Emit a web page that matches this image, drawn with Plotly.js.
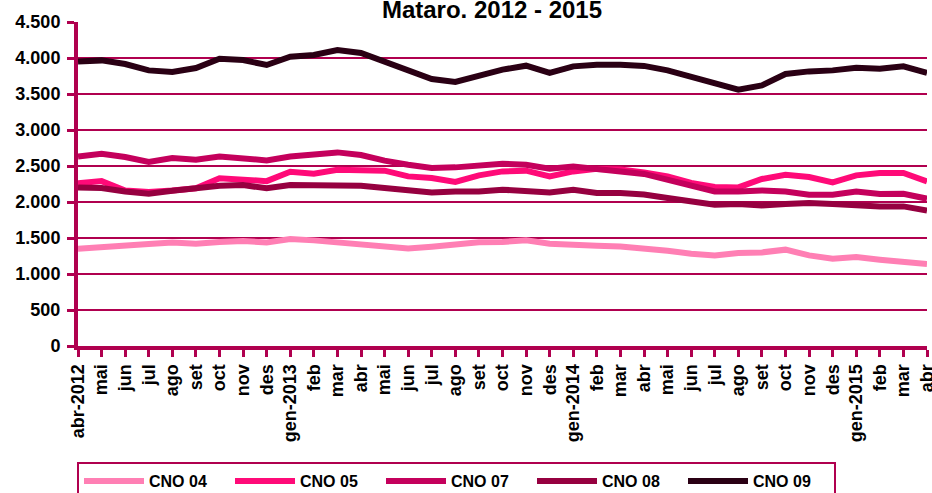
<!DOCTYPE html>
<html><head><meta charset="utf-8">
<script src="https://cdn.plot.ly/plotly-3.0.1.min.js"></script>
<style>html,body{margin:0;padding:0;background:#fff}#chart{width:932px;height:493px}</style>
</head><body><div id="chart"></div>
<script>
const months = ['2012-04','2012-05','2012-06','2012-07','2012-08','2012-09','2012-10','2012-11','2012-12',
  '2013-01','2013-02','2013-03','2013-04','2013-05','2013-06','2013-07','2013-08','2013-09','2013-10','2013-11','2013-12',
  '2014-01','2014-02','2014-03','2014-04','2014-05','2014-06','2014-07','2014-08','2014-09','2014-10','2014-11','2014-12',
  '2015-01','2015-02','2015-03','2015-04'];
const tickLabels = ['abr-2012','mai','jun','jul','ago','set','oct','nov','des',
  'gen-2013','feb','mar','abr','mai','jun','jul','ago','set','oct','nov','des',
  'gen-2014','feb','mar','abr','mai','jun','jul','ago','set','oct','nov','des',
  'gen-2015','feb','mar','abr'];
const seriesNames = ['CNO 04','CNO 05','CNO 07','CNO 08','CNO 09'];
const cno04 = [1351,1379,1389,1417,1439,1421,1444,1458,1439,1486,1467,1444,1421,1393,1355,1380,1420,1440,1445,1467,1421,1397,1393,1383,1361,1324,1282,1258,1292,1300,1338,1258,1213,1236,1199,1167,1139];
const cno05 = [2260,2290,2160,2140,2160,2190,2330,2320,2290,2420,2393,2449,2435,2435,2356,2333,2278,2370,2425,2435,2356,2425,2460,2450,2410,2356,2264,2208,2203,2319,2379,2347,2272,2370,2403,2403,2286];
const cno07 = [2633,2671,2625,2555,2611,2588,2633,2611,2578,2633,2671,2689,2652,2574,2518,2472,2481,2508,2532,2518,2463,2494,2449,2425,2390,2310,2240,2147,2147,2161,2147,2101,2101,2147,2111,2115,2046];
const cno08 = [2203,2194,2147,2115,2157,2190,2225,2235,2190,2235,2235,2240,2225,2194,2161,2133,2147,2147,2171,2147,2133,2171,2125,2125,2105,2055,2018,1962,1972,1953,1972,1986,1972,1953,1939,1939,1883];
const cno09 = [3953,3967,3917,3828,3805,3861,3990,3972,3903,4018,4042,4111,4069,3945,3830,3708,3667,3745,3838,3893,3792,3884,3907,3907,3890,3828,3745,3653,3560,3620,3778,3814,3828,3865,3851,3884,3792];
const seriesValues = [cno04, cno05, cno07, cno08, cno09];
const colors = ['#ff7fb4','#ff0a78','#c4005c','#960040','#2a0014'];

const FONT = 'Arial, "Liberation Sans", sans-serif';
const AXC = '#b0004f';

const traces = seriesValues.map((vals, i) => ({
  type: 'scatter', mode: 'lines', name: seriesNames[i],
  x: months, y: vals,
  line: {color: colors[i], width: 6}
}));

const layout = {
  width: 932, height: 493,
  margin: {l: 78, r: 5, t: 22, b: 147},
  paper_bgcolor: '#fff', plot_bgcolor: '#fff',
  separators: ',.',
  font: {family: FONT, color: '#000', weight: 'bold'},
  title: {text: 'Mataro. 2012 - 2015', font: {family: FONT, size: 24, weight: 'bold', color: '#000'},
          x: 492/932, xanchor: 'center', y: 1 - 18/493, yanchor: 'bottom', xref: 'container', yref: 'container'},
  xaxis: {
    type: 'category', categoryorder: 'array', categoryarray: months,
    tickmode: 'array', tickvals: months, ticktext: tickLabels,
    range: [0, months.length - 1],
    tickangle: -90, tickfont: {family: FONT, size: 18, weight: 'bold', color: '#000'},
    showline: true, linecolor: AXC, linewidth: 4,
    ticks: 'outside', ticklen: 7, tickwidth: 3, tickcolor: AXC,
    showgrid: false, zeroline: false, fixedrange: true
  },
  yaxis: {
    range: [0, 4500], dtick: 500, tick0: 0, tickformat: ',',
    tickfont: {family: FONT, size: 18, weight: 'bold', color: '#000'},
    showline: true, linecolor: AXC, linewidth: 4,
    ticks: 'outside', ticklen: 7, tickwidth: 3, tickcolor: AXC,
    showgrid: true, gridcolor: AXC, gridwidth: 1.5,
    zeroline: false, ticklabelstandoff: 3, fixedrange: true
  },
  showlegend: true,
  legend: {
    orientation: 'h', xref: 'container', yref: 'container',
    x: 77/932, xanchor: 'left', y: 1 - 462/493, yanchor: 'top',
    bordercolor: AXC, borderwidth: 2, bgcolor: '#fff',
    font: {family: FONT, size: 16, weight: 'bold', color: '#000'},
    entrywidth: 76, entrywidthmode: 'pixels', itemwidth: 60,
    traceorder: 'normal'
  }
};

Plotly.newPlot('chart', traces, layout, {displayModeBar: false, staticPlot: true});
</script>
</body></html>
